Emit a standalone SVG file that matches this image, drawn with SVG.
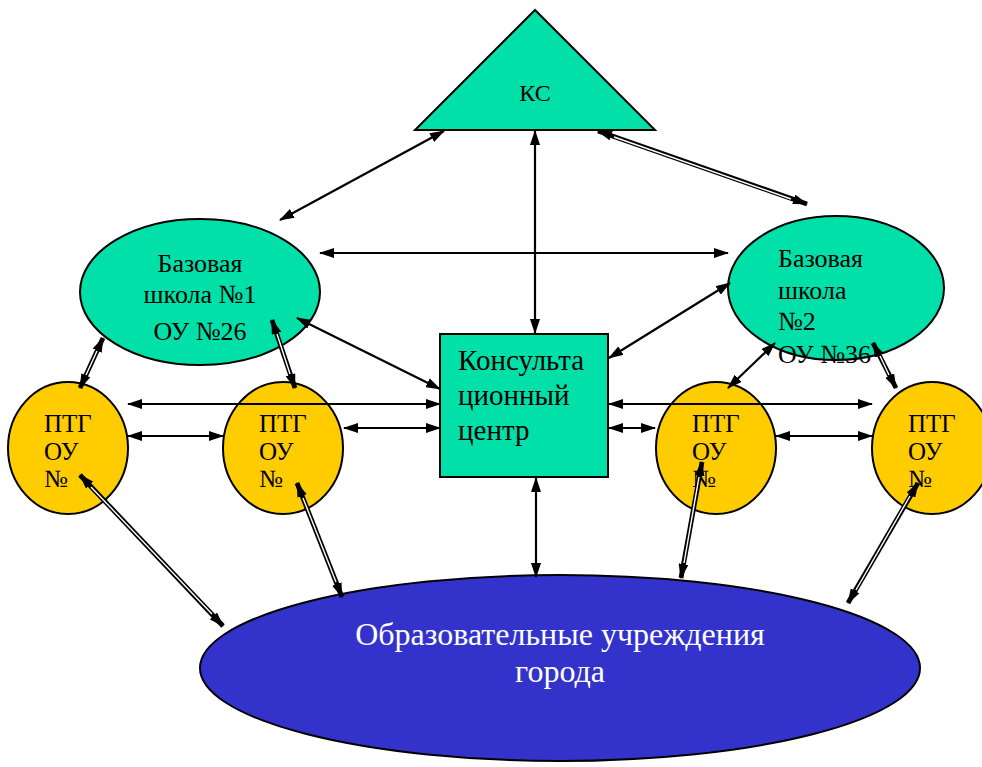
<svg xmlns="http://www.w3.org/2000/svg" width="982" height="767" viewBox="0 0 982 767">
<style>
.t{font-family:"Liberation Serif","Times New Roman",serif;font-size:26px;fill:#000}
.p{font-size:25px}
.c{text-anchor:middle}
.teal{fill:#00E0A8;stroke:#000;stroke-width:2}
.yel{fill:#FFCC00;stroke:#000;stroke-width:2}
.ln{stroke:#000;stroke-width:2.2;fill:none;marker-start:url(#ah);marker-end:url(#ah)}
.dbl{stroke:#000;stroke-width:4.8;fill:none;marker-start:url(#ah);marker-end:url(#ah)}
.gap{stroke:#fff;stroke-width:1.4;fill:none}
</style>
<defs>
<marker id="ah" viewBox="0 0 15 10" refX="14" refY="5" markerWidth="15" markerHeight="10" markerUnits="userSpaceOnUse" orient="auto-start-reverse">
<path d="M0,0 L15,5 L0,10 Z" fill="#000"/>
</marker>
</defs>
<rect width="982" height="767" fill="#fff"/>

<g id="ks">
<polygon class="teal" points="535,10 415,130 655,130"/>
<text class="t c" x="535" y="101" style="font-size:24px">КС</text>
</g>

<g id="base1">
<ellipse class="teal" cx="200" cy="292" rx="120" ry="73"/>
<text class="t c" x="200" y="272">Базовая</text>
<text class="t c" x="200" y="303">школа №1</text>
<text class="t c" x="200" y="340">ОУ №26</text>
</g>

<g id="base2">
<ellipse class="teal" cx="836" cy="288" rx="108" ry="72"/>
<text class="t" x="778" y="267">Базовая</text>
<text class="t" x="778" y="299">школа</text>
<text class="t" x="778" y="330">№2</text>
<text class="t" x="778" y="363">ОУ №36</text>
</g>

<g id="center">
<rect class="teal" x="440" y="334" width="168" height="143"/>
<text class="t" x="458" y="370" style="font-size:29px">Консульта</text>
<text class="t" x="458" y="405" style="font-size:29px">ционный</text>
<text class="t" x="458" y="440" style="font-size:29px">центр</text>
</g>

<g id="ptg1">
<ellipse class="yel" cx="68" cy="448" rx="60" ry="66"/>
<text class="t p" x="44" y="432">ПТГ</text>
<text class="t p" x="44" y="460">ОУ</text>
<text class="t p" x="44" y="487">№</text>
</g>
<g id="ptg2">
<ellipse class="yel" cx="283" cy="448" rx="60" ry="66"/>
<text class="t p" x="259" y="432">ПТГ</text>
<text class="t p" x="259" y="460">ОУ</text>
<text class="t p" x="259" y="487">№</text>
</g>
<g id="ptg3">
<ellipse class="yel" cx="716" cy="448" rx="60" ry="66"/>
<text class="t p" x="692" y="432">ПТГ</text>
<text class="t p" x="692" y="460">ОУ</text>
<text class="t p" x="692" y="487">№</text>
</g>
<g id="ptg4">
<ellipse class="yel" cx="932" cy="448" rx="60" ry="66"/>
<text class="t p" x="908" y="432">ПТГ</text>
<text class="t p" x="908" y="460">ОУ</text>
<text class="t p" x="908" y="487">№</text>
</g>

<g id="city">
<ellipse cx="560" cy="668" rx="360" ry="93" fill="#3333CC" stroke="#000" stroke-width="2"/>
<text class="t c" x="560" y="645" style="font-size:32px;fill:#fff">Образовательные учреждения</text>
<text class="t c" x="560" y="682" style="font-size:32px;fill:#fff">города</text>
</g>

<g id="connectors">
<line class="ln" x1="280" y1="220" x2="444" y2="131"/>
<line class="ln" x1="535" y1="333" x2="535" y2="131"/>
<line class="dbl" x1="807" y1="204" x2="598" y2="131"/>
<line class="gap" x1="791" y1="199" x2="614" y2="137"/>
<line class="ln" x1="320" y1="253" x2="728" y2="253"/>
<line class="ln" x1="297" y1="318" x2="440" y2="389"/>
<line class="ln" x1="730" y1="283" x2="609" y2="358"/>
<line class="dbl" x1="80" y1="388" x2="103" y2="338"/>
<line class="gap" x1="86" y1="375" x2="97" y2="351"/>
<line class="dbl" x1="295" y1="388" x2="272" y2="320"/>
<line class="gap" x1="290" y1="374" x2="277" y2="334"/>
<line class="ln" x1="128" y1="404" x2="440" y2="404"/>
<line class="ln" x1="128" y1="436" x2="223" y2="436"/>
<line class="ln" x1="344" y1="428" x2="440" y2="428"/>
<line class="ln" x1="609" y1="404" x2="872" y2="404"/>
<line class="ln" x1="609" y1="428" x2="655" y2="428"/>
<line class="ln" x1="776" y1="436" x2="872" y2="436"/>
<line class="ln" x1="728" y1="388" x2="775" y2="343"/>
<line class="dbl" x1="896" y1="388" x2="873" y2="343"/>
<line class="gap" x1="889" y1="375" x2="880" y2="356"/>
<line class="ln" x1="536" y1="478" x2="536" y2="577"/>
<line class="dbl" x1="80" y1="475" x2="223" y2="626"/>
<line class="gap" x1="91" y1="487" x2="212" y2="614"/>
<line class="dbl" x1="297" y1="483" x2="342" y2="597"/>
<line class="gap" x1="303" y1="498" x2="336" y2="582"/>
<line class="dbl" x1="702" y1="462" x2="681" y2="578"/>
<line class="gap" x1="699" y1="477" x2="684" y2="563"/>
<line class="dbl" x1="918" y1="483" x2="848" y2="603"/>
<line class="gap" x1="910" y1="496" x2="856" y2="590"/>
</g>
</svg>
